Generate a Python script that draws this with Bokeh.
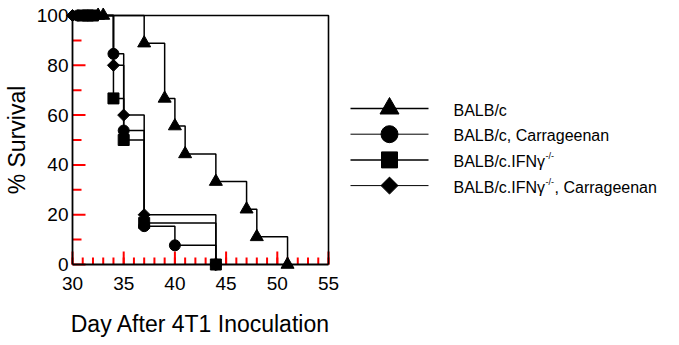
import math
from bokeh.plotting import figure
from bokeh.layouts import row
from bokeh.models import Range1d, FixedTicker, LinearAxis
from bokeh.embed import file_html
from bokeh.resources import INLINE
from bokeh.core.properties import value

# ---------------- data ----------------
x_ticks = [30, 35, 40, 45, 50, 55]
x_minor = list(range(30, 56))
y_ticks = [0, 20, 40, 60, 80, 100]
y_minor = [10, 30, 50, 70, 90]

# Kaplan-Meier steps (day, % survival)
balbc_day = [30, 37, 39, 40, 41, 44, 47, 48, 51]
balbc_surv = [100, 88.9, 66.7, 55.6, 44.4, 33.3, 22.2, 11.1, 0]
carr_day = [30, 34, 35, 37, 40, 44]
carr_surv = [100, 84.6, 53.8, 15.4, 7.7, 0]
ifng_day = [30, 34, 35, 37, 44]
ifng_surv = [100, 66.7, 50.0, 16.7, 0]
ifngc_day = [30, 34, 35, 37, 44]
ifngc_surv = [100, 80.0, 60.0, 20.0, 0]

# markers drawn at 100 % near the start
balbc_start = [32.5, 33]
carr_start = [30.5]
ifng_start = [31, 31.5, 32]
ifngc_start = [30]

legend_labels = ["BALB/c", "BALB/c, Carrageenan", "BALB/c.IFNγ", "BALB/c.IFNγ"]
legend_sup = ["", "", "-/-", "-/-"]
legend_tail = ["", "", "", ", Carrageenan"]

FONT = "Liberation Sans"
TICK_COLOR = "red"

# ---------------- main plot ----------------
W1, H = 340, 345
x0_px, x1_px = 72, 328      # pixel of day 30 / 55
y100_px, y0_px = 15, 264    # pixel of 100 % / 0 %
pxd = (x1_px - x0_px) / 25.0
pxy = (y0_px - y100_px) / 100.0
xr = Range1d(30 - x0_px / pxd, 30 + (W1 - x0_px) / pxd)
yr = Range1d(0 - (H - y0_px) / pxy, 100 + y100_px / pxy)

p = figure(width=W1, height=H, x_range=xr, y_range=yr,
           output_backend="svg", toolbar_location=None,
           min_border=0, x_axis_location=None, y_axis_location=None)
p.outline_line_color = None
p.grid.visible = False

xa = LinearAxis(fixed_location=y_ticks[0], bounds=(x_ticks[0], x_ticks[-1]),
                ticker=FixedTicker(ticks=x_ticks, minor_ticks=x_minor))
xa.axis_label = "Day After 4T1 Inoculation"
ya = LinearAxis(fixed_location=x_ticks[0], bounds=(y_ticks[0], y_ticks[-1]),
                ticker=FixedTicker(ticks=y_ticks, minor_ticks=y_minor))
ya.axis_label = "% Survival"
for ax in (xa, ya):
    ax.major_tick_in = 0
    ax.major_tick_out = 0
    ax.minor_tick_in = 0
    ax.minor_tick_out = 0
    ax.axis_line_width = 1.8
    ax.axis_line_color = "black"
    ax.major_label_text_font = FONT
    ax.major_label_text_font_size = "19px"
    ax.major_label_text_color = "black"
    ax.axis_label_text_font = FONT
    ax.axis_label_text_font_size = "23px"
    ax.axis_label_text_font_style = "normal"
    ax.axis_label_text_color = "black"
xa.major_label_standoff = 12
xa.axis_label_standoff = 18
ya.major_label_standoff = 4
ya.axis_label_standoff = 4
p.add_layout(xa, "below")
p.add_layout(ya, "left")

# inward tick marks (lengths in px converted to data units)
x_base, y_base = y_ticks[0], x_ticks[0]
p.segment(x0=x_minor, y0=[x_base] * len(x_minor), x1=x_minor,
          y1=[x_base + 7 / pxy] * len(x_minor), line_color=TICK_COLOR, line_width=2)
p.segment(x0=x_ticks, y0=[x_base] * len(x_ticks), x1=x_ticks,
          y1=[x_base + 13 / pxy] * len(x_ticks), line_color=TICK_COLOR, line_width=2)
p.segment(x0=[y_base] * len(y_minor), y0=y_minor, x1=[y_base + 9 / pxd] * len(y_minor),
          y1=y_minor, line_color=TICK_COLOR, line_width=2)
p.segment(x0=[y_base] * len(y_ticks), y0=y_ticks, x1=[y_base + 13 / pxd] * len(y_ticks),
          y1=y_ticks, line_color=TICK_COLOR, line_width=2)

# top and right edges of the box
p.line([x_ticks[0], x_ticks[-1], x_ticks[-1]], [y_ticks[-1], y_ticks[-1], y_ticks[0]],
       line_color="black", line_width=1.6)

series = [
    (balbc_day, balbc_surv, balbc_start, "triangle", 13, 0.0),
    (carr_day, carr_surv, carr_start, "circle", 11, 0.0),
    (ifng_day, ifng_surv, ifng_start, "square", 11, 0.0),
    (ifngc_day, ifngc_surv, ifngc_start, "square", 8.5, math.pi / 4),
]
for d, s, st, mk, sz, ang in series:
    p.step(d, s, mode="after", line_color="black", line_width=1.5)
for d, s, st, mk, sz, ang in series:
    mx = st + d[1:]
    my = [100] * len(st) + s[1:]
    p.scatter(mx, my, marker=mk, size=sz, angle=ang,
              fill_color="black", line_color="black")

# ---------------- legend panel ----------------
W2 = 679 - W1
q = figure(width=W2, height=H, x_range=Range1d(0, W2), y_range=Range1d(H, 0),
           output_backend="svg", toolbar_location=None,
           min_border=0, x_axis_location=None, y_axis_location=None)
q.outline_line_color = None
q.grid.visible = False

row_y0, row_dy = 108, 25.7
line_x0, line_x1, mark_x, text_x = 350 - W1, 428 - W1, 389 - W1, 453 - W1
leg_markers = [("triangle", 19, 0.0, 1.5), ("circle", 17, 0.0, 1.0),
               ("square", 16, 0.0, 1.5), ("square", 12, math.pi / 4, 1.0)]

ADV = {"B": .667, "A": .667, "L": .556, "/": .278, "c": .5, ".": .278, "I": .278,
       "F": .611, "N": .722, "γ": .5, "-": .333, ",": .278, " ": .278}

def width(s, size):
    return sum(ADV.get(ch, .556) for ch in s) * size

for i, lab in enumerate(legend_labels):
    yy = row_y0 + i * row_dy
    mk, sz, ang, lw = leg_markers[i]
    q.line([line_x0, line_x1], [yy, yy], line_color="black", line_width=lw)
    q.scatter([mark_x], [yy], marker=mk, size=sz, angle=ang,
              fill_color="black", line_color="black")
    q.text([text_x], [yy + 1.5], text=[lab], text_font=value(FONT),
           text_font_size="16px", text_baseline="middle", text_align="left",
           text_color="black")
    xx = text_x + width(lab, 16)
    if legend_sup[i]:
        q.text([xx + 0.5], [yy - 3.5], text=[legend_sup[i]], text_font=value(FONT),
               text_font_size="9px", text_baseline="middle", text_align="left",
               text_color="black")
        xx += width(legend_sup[i], 9) + 1
    if legend_tail[i]:
        q.text([xx], [yy + 1.5], text=[legend_tail[i]], text_font=value(FONT),
               text_font_size="16px", text_baseline="middle", text_align="left",
               text_color="black")

layout = row(p, q, spacing=0)
open("out.html", "w").write(file_html(layout, INLINE))
